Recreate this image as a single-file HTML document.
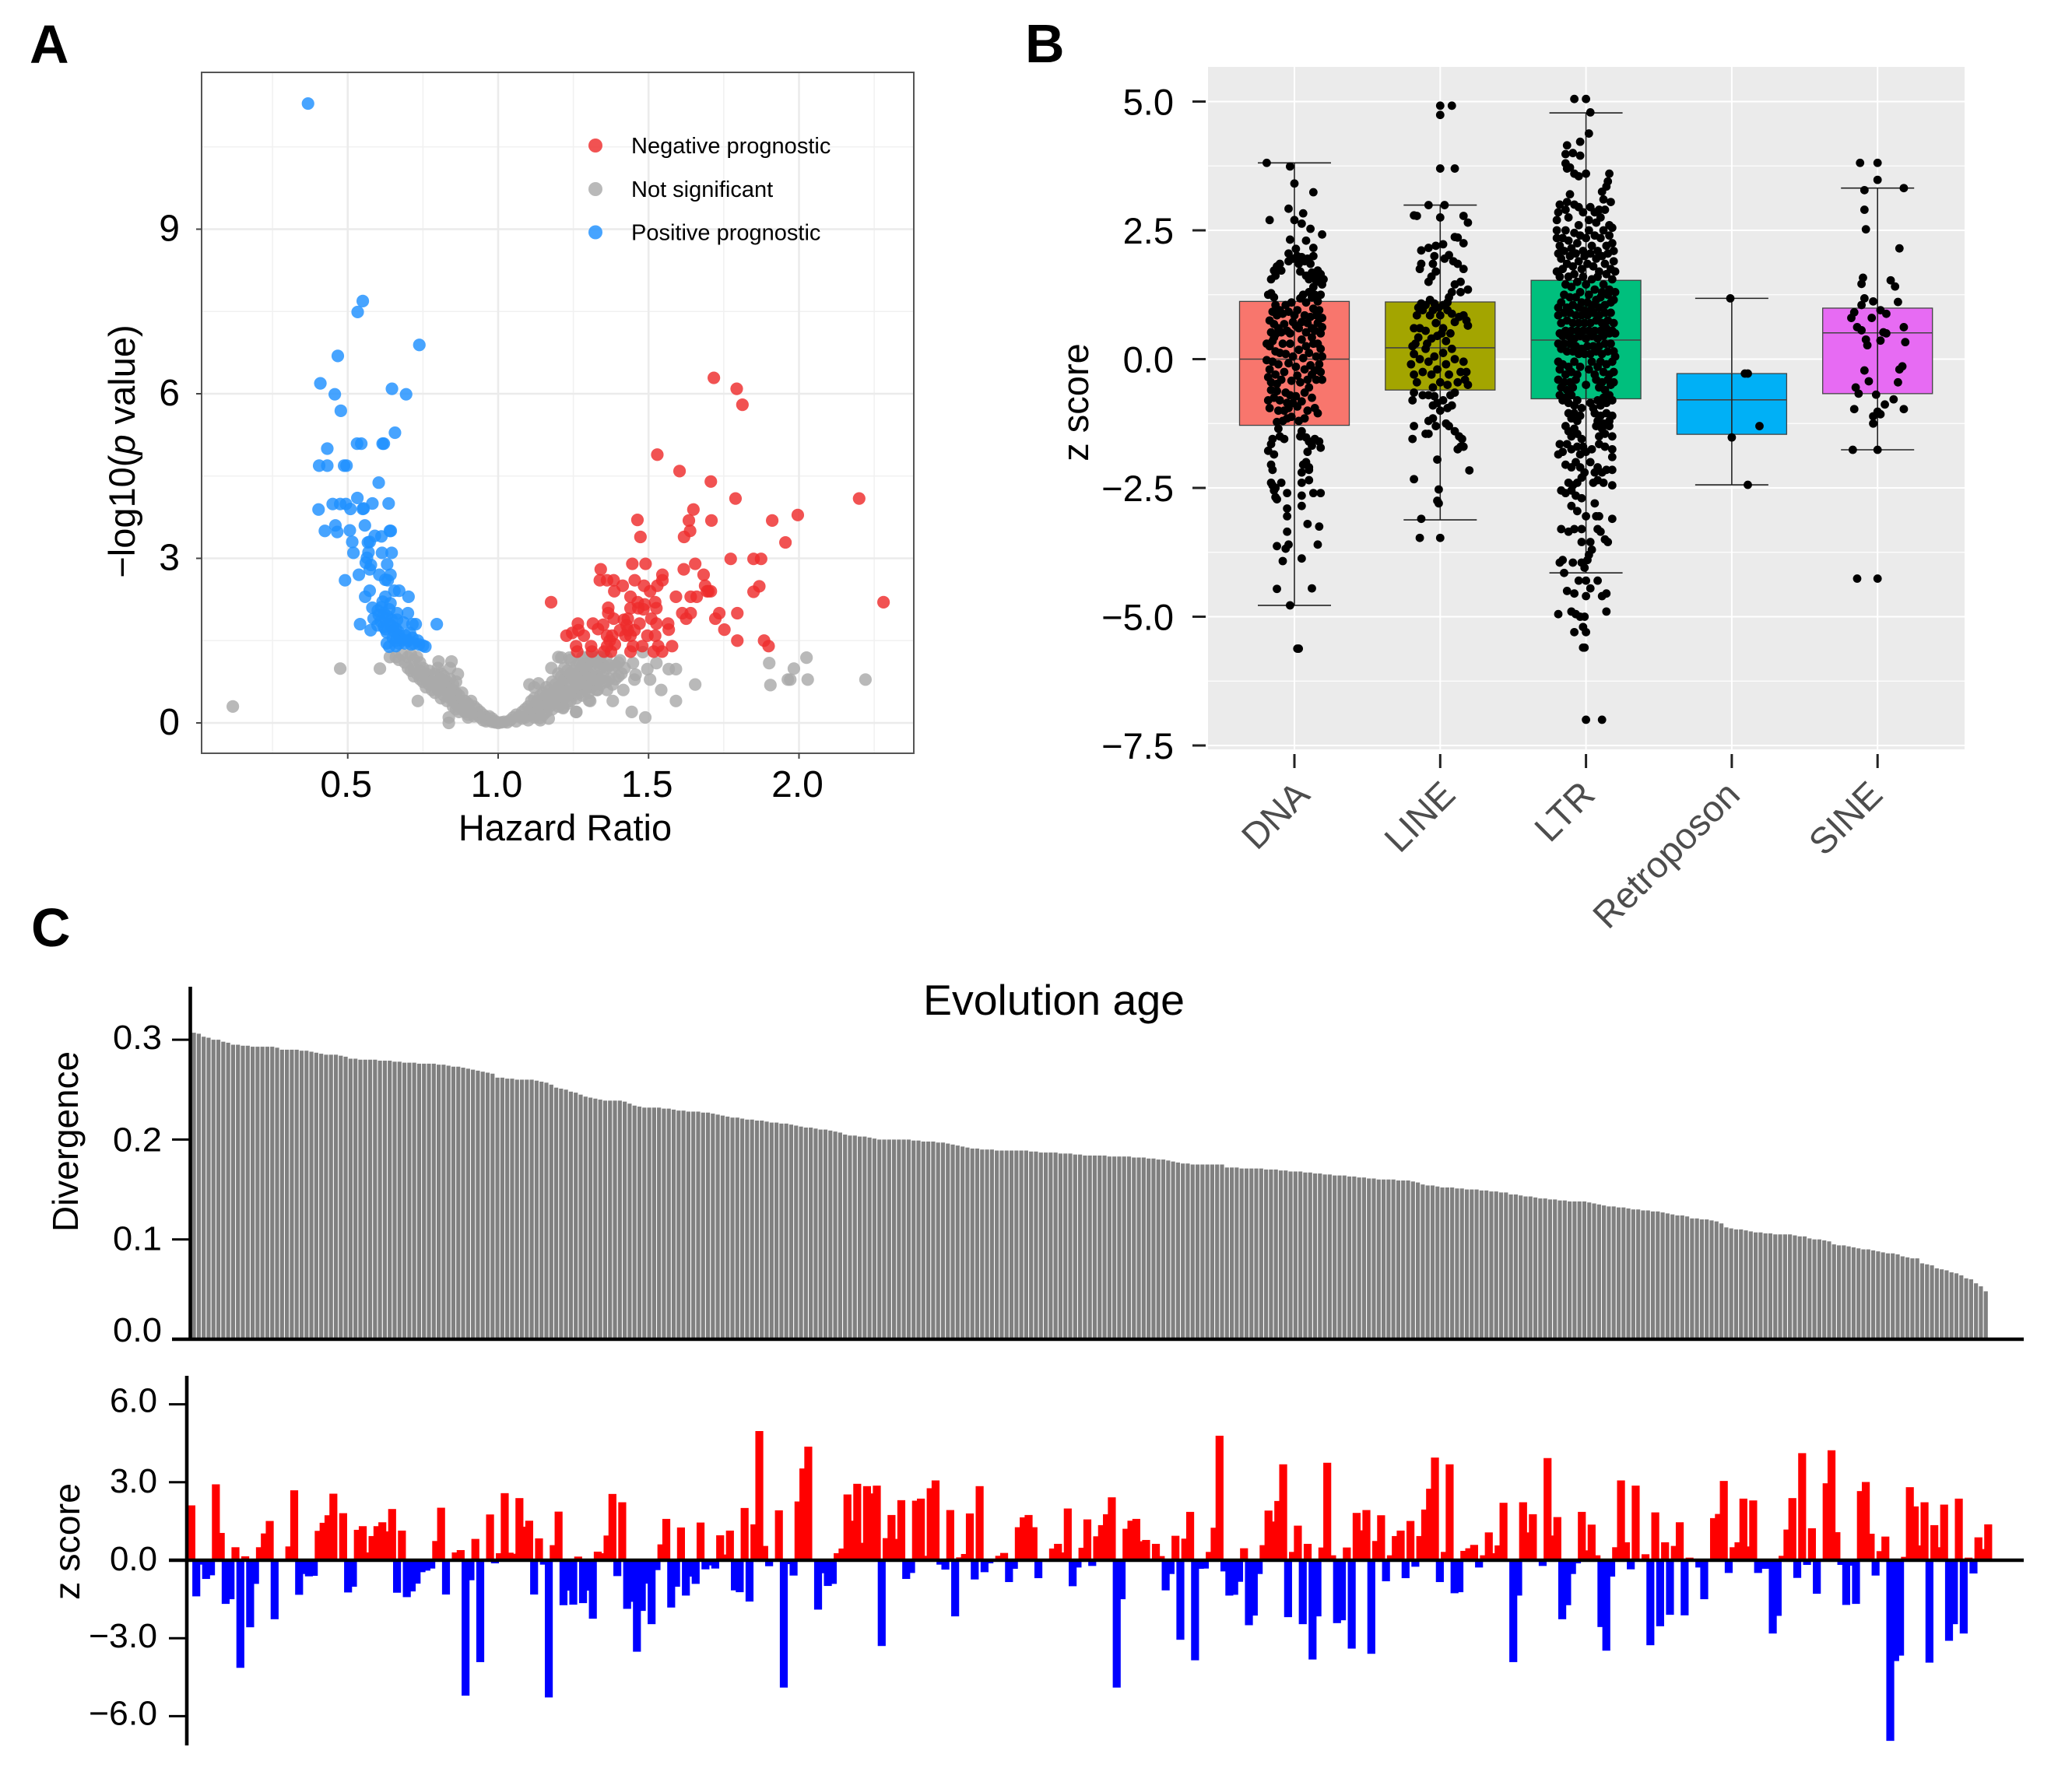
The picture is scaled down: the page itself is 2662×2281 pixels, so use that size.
<!DOCTYPE html>
<html lang="en">
<head>
<meta charset="utf-8">
<title>Prognostic volcano plot, z score box plot and evolution age bars</title>
<style>
html,body{margin:0;padding:0;background:#fff}
svg{display:block}
text{font-family:"Liberation Sans",Arial,sans-serif}
</style>
</head>
<body>
<svg id="fig" xmlns="http://www.w3.org/2000/svg" width="2662" height="2281" viewBox="0 0 2662 2281">
<rect width="2662" height="2281" fill="#fff"/>
<text x="38" y="81" font-size="70" font-weight="700">A</text>
<text x="1317" y="80" font-size="70" font-weight="700">B</text>
<text x="40" y="1216" font-size="70" font-weight="700">C</text>
<g id="panelA"></g>
<g id="panelB"></g>
<g id="panelC1"></g>
<g id="panelC2"></g>
<text x="726" y="1080" font-size="47" text-anchor="middle">Hazard Ratio</text>
<text transform="translate(173,580) rotate(-90)" font-size="47" text-anchor="middle">−log10(<tspan font-style="italic">p</tspan> value)</text>
<text transform="translate(1398,517) rotate(-90)" font-size="47" text-anchor="middle">z score</text>
<text x="1354" y="1304" font-size="55" text-anchor="middle" textLength="336" lengthAdjust="spacingAndGlyphs">Evolution age</text>
<text transform="translate(100,1467) rotate(-90)" font-size="46" text-anchor="middle" textLength="232" lengthAdjust="spacingAndGlyphs">Divergence</text>
<text transform="translate(102,1981) rotate(-90)" font-size="46" text-anchor="middle" textLength="150" lengthAdjust="spacingAndGlyphs">z score</text>
</svg>
<script>
/* ---------- Panel A data: hazard ratio, -log10(p) alternating ---------- */
const volcanoXTicks=[0.5,1.0,1.5,2.0];
const volcanoYTicks=[0,3,6,9];
const legendLabels=["Negative prognostic","Not significant","Positive prognostic"];
const positivePoints=[.368,11.29,.55,7.69,.533,7.49,.738,6.89,.467,6.69,.409,6.19,.647,6.09,.457,5.99,.694,5.99,.477,5.69,.657,5.29,.432,5,.531,5.09,.545,5.09,.616,5.09,.62,5.09,.405,4.69,.432,4.69,.488,4.69,.496,4.69,.603,4.38,.532,4.1,.45,3.99,.475,3.99,.494,3.99,.582,4,.636,4,.403,3.89,.509,3.9,.55,3.9,.553,3.91,.459,3.6,.465,3.48,.424,3.5,.507,3.51,.557,3.6,.64,3.5,.643,3.5,.59,3.41,.612,3.4,.573,3.3,.567,3.29,.515,3.3,.519,3.1,.569,3.11,.614,3.1,.646,3.1,.564,3.01,.56,2.92,.577,2.88,.631,2.89,.573,2.8,.537,2.7,.605,2.7,.642,2.7,.491,2.6,.625,2.61,.633,2.6,.573,2.41,.558,2.3,.655,2.41,.671,2.41,.702,2.3,.625,2.3,.616,2.21,.642,2.18,.582,2.1,.612,2.11,.638,2.07,.664,2,.7,2,.603,1.97,.586,1.9,.625,1.9,.646,1.88,.664,1.88,.685,1.83,.715,1.8,.726,1.8,.541,1.8,.796,1.8,.599,1.78,.625,1.71,.576,1.69,.651,1.69,.668,1.66,.707,1.64,.664,1.55,.681,1.52,.715,1.55,.733,1.5,.638,1.39,.66,1.4,.69,1.45,.711,1.43,.737,1.43,.758,1.39,.75,1.41,.6,2.05,.62,2,.63,1.95,.61,1.85,.64,1.8,.62,1.75,.65,1.75,.66,1.72,.63,1.65,.67,1.6,.69,1.6,.65,1.55,.7,1.5,.67,1.45,.72,1.45,.66,1.5,.63,1.45];
const negativePoints=[1.717,6.29,1.793,6.09,1.812,5.8,1.529,4.89,1.603,4.59,1.707,4.4,1.789,4.09,2.2,4.09,1.996,3.79,1.649,3.89,1.463,3.7,1.634,3.69,1.709,3.69,1.911,3.69,1.638,3.5,1.618,3.39,1.473,3.39,1.955,3.29,1.773,2.99,1.849,2.99,1.874,2.99,2.281,2.2,1.868,2.49,1.849,2.39,1.176,2.2,1.446,2.9,1.49,2.9,1.341,2.8,1.338,2.6,1.362,2.6,1.384,2.6,1.414,2.5,1.386,2.4,1.454,2.6,1.485,2.5,1.505,2.4,1.529,2.5,1.546,2.7,1.546,2.6,1.617,2.8,1.655,2.9,1.683,2.7,1.688,2.5,1.694,2.4,1.707,2.4,1.699,2.4,1.591,2.3,1.64,2.3,1.66,2.3,1.44,2.3,1.464,2.2,1.487,2.16,1.522,2.2,1.526,2.09,1.44,2.09,1.366,2.1,1.366,2,1.384,1.9,1.466,2.09,1.483,2.07,1.612,2,1.64,2,1.625,1.9,1.735,2,1.722,1.9,1.795,2,1.752,1.7,1.795,1.5,1.884,1.5,1.899,1.4,1.578,1.4,1.565,1.81,1.567,1.7,1.431,1.9,1.509,1.9,1.526,1.81,1.47,1.81,1.427,1.78,1.265,1.81,1.315,1.81,1.349,1.79,1.332,1.71,1.227,1.59,1.246,1.64,1.267,1.69,1.285,1.59,1.362,1.59,1.379,1.59,1.405,1.69,1.431,1.69,1.44,1.59,1.496,1.59,1.522,1.59,1.259,1.4,1.263,1.3,1.309,1.4,1.312,1.3,1.352,1.3,1.375,1.3,1.371,1.5,1.388,1.43,1.362,1.4,1.448,1.4,1.479,1.4,1.44,1.3,1.532,1.4,1.517,1.3,1.545,1.3,1.423,1.59,1.418,1.88,1.453,1.69];
const neutralPoints=[.118,.3,.475,.99,.607,.99,1.901,1.09,2.025,1.19,1.983,.99,1.971,.79,1.963,.79,2.029,.79,2.221,.79,1.905,.69,1.526,1.09,1.567,.98,1.591,.98,1.457,.88,1.453,.79,1.496,.98,1.505,.79,1.542,.6,1.591,.4,1.655,.7,1.416,.6,1.381,.4,1.306,.4,1.26,.2,1.444,.2,1.489,.1,1.448,1.09,1.405,1.14,1.481,1.29,1.362,.6,1.328,.6,1.168,.08,1.216,.29,.733,.4,.836,0,.836,.1,.9,.1,.802,1.12,.845,1.12,.84,1,.866,.89,.64,1.2,.66,1.2,.67,1.15,.68,1.25,.69,1.1,.7,1.2,.71,1.25,.72,1.15,.73,1.2,.74,1.1,.7,1,.71,.95,.72,1,.73,.9,.74,.95,.75,1,.76,.9,.77,.95,.72,.85,.74,.8,.75,.75,.76,.8,.78,.85,.79,.9,.8,1,.81,.9,.82,.85,.76,.65,.77,.7,.78,.75,.79,.7,.8,.75,.81,.8,.83,.75,.84,.8,.85,.7,.86,.75,.78,.6,.79,.55,.8,.6,.81,.65,.82,.6,.83,.65,.84,.55,.85,.6,.86,.55,.87,.5,.88,.55,.81,.45,.82,.5,.83,.4,.84,.45,.85,.4,.86,.35,.87,.4,.88,.35,.89,.4,.9,.35,.91,.4,.85,.3,.86,.25,.87,.2,.88,.25,.89,.2,.9,.25,.91,.2,.92,.3,.93,.25,.94,.2,.9,.15,.92,.12,.93,.15,.94,.1,.95,.15,.96,.1,.97,.12,.95,.05,.96,.03,.97,.05,.98,.02,.99,.03,1,0,1.01,.01,1.02,.02,1.03,.01,.98,.08,.99,.01,1.04,.05,1.05,.1,1.06,.03,1.07,.12,1.08,.08,1.09,.1,1.06,.15,1.08,.2,1.1,.05,1.11,.15,1.12,.1,1.14,.05,1.09,.25,1.1,.3,1.11,.25,1.12,.3,1.13,.2,1.14,.25,1.15,.15,1.16,.2,1.11,.4,1.12,.45,1.13,.4,1.14,.35,1.15,.3,1.16,.35,1.17,.3,1.18,.25,1.14,.5,1.15,.55,1.16,.5,1.17,.45,1.18,.4,1.19,.35,1.2,.3,1.21,.4,1.12,.65,1.16,.65,1.17,.6,1.18,.55,1.19,.5,1.2,.5,1.21,.55,1.22,.45,1.23,.35,1.24,.4,1.25,.5,1.26,.45,1.18,.75,1.19,.7,1.2,.65,1.21,.7,1.22,.6,1.23,.65,1.24,.55,1.25,.6,1.26,.65,1.27,.55,1.28,.5,1.29,.6,1.3,.55,1.2,.9,1.21,.85,1.22,.8,1.23,.85,1.24,.75,1.25,.8,1.26,.75,1.27,.7,1.28,.75,1.29,.7,1.3,.75,1.31,.65,1.32,.7,1.33,.6,1.34,.7,1.22,1,1.23,.95,1.24,.9,1.25,.95,1.26,.9,1.27,.85,1.28,.9,1.29,.85,1.3,.9,1.31,.85,1.32,.8,1.33,.85,1.34,.8,1.35,.85,1.36,.75,1.37,.8,1.38,.7,1.39,.8,1.4,.85,1.41,.9,1.24,1.15,1.26,1.05,1.27,1.1,1.28,1.05,1.29,1,1.3,1.1,1.31,1.05,1.32,1,1.33,1.1,1.34,1,1.35,1.05,1.36,1,1.37,1.05,1.38,1,1.39,1.05,1.21,1.19,1.4,1.1,1.42,1,1.28,1.2,1.3,1.2,1.32,1.2,1.34,1.2,1.36,1.2,1.2,1.2,1.237,1.19,1.177,1,1.104,.7,1.134,.72,1.259,.2,1.216,.27,1.138,.09,1.302,.41];

/* ---------- Panel B data ---------- */
const boxCategories=["DNA","LINE","LTR","Retroposon","SINE"];
const boxColors=["#F8766D","#A3A500","#00BF7D","#00B0F6","#E76BF3"];
const boxYTicks=[5,2.5,0,-2.5,-5,-7.5];
const boxMinorTicks=[3.75,1.25,-1.25,-3.75,-6.25];
const boxQ1=[-1.285,-.6,-.77,-1.46,-.67];
const boxMedian=[0,.22,.37,-.79,.51];
const boxQ3=[1.12,1.11,1.53,-.28,.99];
const whiskerHigh=[3.81,2.99,4.78,1.18,3.32];
const whiskerLow=[-4.78,-3.12,-4.15,-2.44,-1.76];
/* jitter offset (category units), z score alternating */
const dnaDots=[-.19,3.81,-.03,3.74,0,3.41,.13,3.24,-.04,2.92,.06,2.83,-.17,2.7,0,2.7,.05,2.63,.11,2.53,.19,2.42,-.03,2.32,.08,2.3,-.04,2.05,.01,2.14,.13,2.16,-.14,1.72,-.12,1.8,-.1,1.85,-.16,1.55,-.13,1.62,-.09,1.72,-.04,1.9,-.01,1.95,.02,2,.05,1.98,.07,1.9,.09,1.95,.11,1.85,.13,2,.03,1.85,.04,1.7,.08,1.62,.1,1.55,.12,1.68,.14,1.6,.16,1.72,.18,1.65,.2,1.55,.19,1.45,.17,1.5,.15,1.52,.13,1.4,-.18,1.25,-.16,1.28,-.14,1.2,-.13,1.05,-.15,.92,-.17,.75,-.14,.68,-.12,.85,-.1,.95,-.11,.6,-.08,.88,-.06,1.05,-.04,.92,-.02,1.1,0,.85,.02,.95,.04,1.18,.06,1.25,.08,1.1,.1,1.3,.12,1.2,.14,1.25,.16,1.12,.18,1.25,.17,.95,.19,.8,.15,.85,.13,.98,.11,.82,.09,.7,.07,.85,.05,.72,.03,.6,.01,.65,-.01,.72,-.03,.5,-.05,.55,-.07,.68,-.09,.52,-.13,.48,-.16,.52,.12,.6,.14,.55,.16,.7,.18,.5,.19,.62,.08,.52,-.19,.3,-.17,.25,-.15,.35,-.13,.15,-.15,-.05,-.17,-.2,-.18,-.35,-.16,-.45,-.13,-.3,-.11,-.1,-.1,.12,-.08,.3,-.06,.1,-.04,-.08,-.07,-.25,-.09,-.4,-.03,.3,-.01,.05,.01,-.15,.03,.18,.05,.38,.02,-.32,.04,-.45,.06,.02,.08,.25,.1,.12,.07,-.2,.09,-.4,.11,-.12,.13,.3,.15,.05,.12,.42,.16,.3,.18,.2,.19,.05,.17,-.1,.18,-.25,.14,-.22,.19,-.4,.15,-.4,.12,-.3,-.12,-.48,-.02,-.42,-.19,-.02,-.14,.42,-.16,-.6,-.18,-.8,-.14,-.75,-.17,-.95,-.12,-.62,-.1,-.8,-.11,-1,-.06,-.65,-.05,-.85,-.07,-1,-.03,-.7,-.04,-.95,-.01,-.85,.01,-.72,.02,-.92,-.02,-1.12,-.08,-1.2,-.05,-1.15,-.11,-1.35,-.12,-1.22,.03,-1.2,.05,-.82,.07,-.65,.09,-1,.12,-.75,.1,-.55,.14,-.95,.16,-1.05,.07,-1.15,.05,-1.4,.04,-1.5,-.15,-1.55,-.16,-1.65,-.18,-1.78,-.14,-1.85,-.1,-1.5,-.07,-1.55,.08,-1.52,.1,-1.6,.14,-1.55,.17,-1.6,.18,-1.72,.12,-1.68,.09,-1.8,.08,-2,.1,-2.1,.06,-2.05,.1,-2.15,.05,-2.2,-.16,-2.05,-.15,-2.15,-.16,-2.4,-.15,-2.45,-.13,-2.5,-.09,-2.4,-.14,-2.55,-.13,-2.68,-.12,-2.72,.05,-2.4,.1,-2.35,.18,-2.6,.13,-2.6,.05,-2.65,-.05,-2.6,-.05,-2.9,.05,-2.85,-.05,-3.05,.09,-3.2,.17,-3.25,-.05,-3.35,.16,-3.6,-.12,-3.63,-.04,-3.6,-.06,-3.68,-.08,-3.92,.05,-3.87,-.12,-4.46,.12,-4.45,-.03,-4.78,.02,-5.62,.03,-5.62];
const lineDots=[0,4.92,.08,4.92,0,4.74,0,3.7,.1,3.7,-.08,2.99,.03,2.99,-.18,2.79,-.16,2.78,0,2.75,.16,2.78,.19,2.65,.1,2.37,.12,2.36,.16,2.25,.02,2.23,-.03,2.2,-.08,2.16,-.13,2.11,-.13,1.85,-.14,1.75,-.04,2,-.05,1.85,-.03,1.7,-.06,1.6,-.08,1.5,.03,1.95,.06,2.02,.09,1.9,.12,1.85,.16,1.75,.14,1.5,.1,1.45,.08,1.3,.06,1.2,.14,1.3,.19,1.35,.05,1.1,.02,1.05,-.01,1,-.04,1.08,-.07,1.15,-.1,1.05,-.15,1,-.13,1.08,-.16,.85,-.18,.6,-.12,.95,-.14,.6,-.1,.55,-.07,.85,-.05,.95,-.03,.7,0,.85,.02,.6,.05,.95,.08,.88,.1,.72,.13,.82,.16,.85,.18,.75,.19,.65,-.02,.45,-.06,.4,-.09,.3,.01,.5,.04,.35,.07,.5,-.15,.42,-.19,.25,-.17,.3,-.18,.1,-.2,-.1,-.18,-.3,-.16,-.45,-.14,0,-.12,-.25,-.1,.2,-.08,-.05,-.06,-.3,-.04,.05,-.02,-.2,0,-.45,.02,.12,.04,-.1,.06,-.3,.08,.2,.1,0,.12,-.45,.14,-.25,.16,-.05,.17,-.4,.05,-.5,-.05,-.55,.18,-.25,.19,-.5,-.19,-.8,-.18,-.65,-.12,-.7,-.08,-.7,-.04,-.72,-.05,-.9,-.02,-.85,.02,-.8,.05,-.95,.07,-.7,.1,-.65,.08,-.9,0,-1,.04,-1.25,.06,-1.3,-.08,-1.2,-.05,-1.15,-.03,-1.3,-.18,-1.3,-.08,-1.45,-.19,-1.55,-.1,-1.45,.1,-1.4,.13,-1.5,.15,-1.55,.14,-1.7,.12,-1.75,.16,-1.7,-.02,-1.95,.2,-2.16,-.18,-2.33,-.01,-2.53,-.02,-2.75,-.01,-2.8,-.13,-3.1,-.14,-3.47,0,-3.47];
const ltrDots=[-.08,5.05,0,5.05,.03,4.79,.02,4.38,-.04,4.22,-.13,4.15,-.14,3.98,-.09,4,-.04,3.95,-.14,3.8,-.13,3.7,-.11,3.72,-.08,3.6,-.05,3.55,0,3.6,.16,3.6,.15,3.45,.14,3.35,.11,3.25,.12,3.1,.17,3.05,-.11,3.2,-.13,3.05,-.18,3,-.19,2.85,-.2,2.7,-.14,2.9,-.12,2.75,-.08,3,-.05,2.95,-.02,2.85,.03,2.95,.06,2.85,.09,2.9,.13,2.9,.02,2.7,-.05,2.6,.07,2.65,.1,2.75,.16,2.6,.18,2.55,-.2,2.5,-.2,2.35,-.18,2.2,-.16,2.35,-.14,2.5,-.12,2.3,-.1,2.15,-.08,2.45,-.06,2.25,-.04,2.4,-.02,2.1,0,2.35,.02,2.5,.04,2.2,.06,2.4,.08,2.1,.1,2.35,.12,2.5,.14,2.2,.16,2.4,.18,2.25,.19,2.1,-.19,2.05,-.17,1.95,-.15,2.1,-.13,1.85,-.11,2,-.09,1.8,-.07,2.05,-.05,1.9,-.03,1.75,-.01,2,.01,1.85,.03,2.05,.05,1.8,.07,1.95,.09,1.7,.11,2,.13,1.85,.15,2.05,.17,1.75,.19,1.9,.2,1.7,-.2,1.7,-.18,1.6,-.16,1.75,-.14,1.45,-.12,1.6,-.1,1.4,-.08,1.65,-.06,1.5,-.04,1.3,-.02,1.6,0,1.45,.02,1.25,.04,1.55,.06,1.35,.08,1.6,.1,1.2,.12,1.45,.14,1.65,.16,1.35,.18,1.55,.2,1.3,.19,1.15,.17,1.1,.15,1.25,.13,1.05,.11,1.3,.09,1,.07,1.15,.05,1.05,.03,.95,.01,1.1,-.01,.95,-.03,1.1,-.05,1,-.07,1.2,-.09,1.05,-.11,1.2,-.13,1,-.15,1.25,-.17,1.1,-.19,1,-.19,.85,-.17,.7,-.15,.9,-.13,.75,-.11,.9,-.09,.7,-.07,.85,-.05,.7,-.03,.85,-.01,.7,.01,.85,.03,.7,.05,.9,.07,.75,.09,.85,.11,.7,.13,.9,.15,.75,.17,.9,.19,.7,.2,.5,.18,.55,.16,.5,.14,.6,.12,.45,.1,.55,.08,.4,.06,.55,.04,.45,.02,.55,0,.4,-.02,.55,-.04,.45,-.06,.55,-.08,.4,-.1,.55,-.12,.45,-.14,.55,-.16,.45,-.18,.5,-.19,.3,-.17,.2,-.15,.3,-.13,.15,-.11,.3,-.09,.15,-.07,.25,-.05,.1,-.03,.2,-.01,.1,.01,.25,.03,.1,.05,.25,.07,.15,.09,.25,.11,.1,.13,.3,.15,.15,.17,.3,.19,.15,.2,.05,-.19,-.05,-.18,-.2,-.16,-.1,-.14,-.3,-.12,-.15,-.1,-.25,-.08,-.05,-.06,-.3,-.04,-.15,.02,-.2,.04,-.05,.06,-.3,.08,-.15,.1,-.05,.12,-.25,.14,-.1,.16,-.3,.18,-.05,.19,-.25,-.19,-.4,-.17,-.55,-.15,-.45,-.13,-.6,-.11,-.45,-.09,-.55,-.07,-.4,0,-.5,.07,-.4,.09,-.55,.11,-.45,.13,-.6,.15,-.4,.17,-.5,.19,-.45,-.18,-.7,-.16,-.8,-.14,-.75,-.12,-.85,-.1,-.7,-.08,-.9,-.06,-.8,-.03,-.95,.03,-.85,.05,-.95,.08,-.8,.1,-.9,.12,-.75,.14,-.85,.16,-.7,.18,-.8,-.12,-1.05,-.1,-1.15,-.08,-1.05,-.06,-1.2,-.04,-1.1,.06,-1.05,.08,-1.2,.1,-1.1,.12,-1.25,.14,-1.05,.16,-1.2,.18,-1.1,-.14,-1.3,-.12,-1.4,-.1,-1.5,-.08,-1.35,-.06,-1.45,-.03,-1.55,.07,-1.3,.09,-1.5,.11,-1.35,.13,-1.45,.16,-1.3,.18,-1.5,-.18,-1.65,-.16,-1.8,-.19,-1.85,-.13,-1.65,-.1,-1.75,-.06,-1.7,-.04,-1.85,-.02,-1.7,0,-1.8,.04,-1.75,.09,-1.65,.13,-1.7,.18,-1.75,.18,-1.9,-.14,-2.05,-.1,-2.1,-.07,-2,-.04,-2.1,-.01,-2.2,.03,-2,.06,-2.2,.08,-2.1,.11,-2.2,.14,-2.15,.18,-2.15,.12,-2.4,.08,-2.35,.05,-2.4,.18,-2.45,-.03,-2.3,-.06,-2.4,-.09,-2.45,-.12,-2.4,-.17,-2.55,-.14,-2.6,-.1,-2.55,-.07,-2.65,-.03,-2.7,.06,-2.8,-.1,-2.85,-.06,-2.95,0,-3.05,.07,-3.05,-.17,-3.3,-.12,-3.35,-.08,-3.3,-.03,-3.3,.09,-3.05,.18,-3.1,.08,-3.3,.1,-3.35,.13,-3.5,.15,-3.55,-.03,-3.55,.03,-3.55,.04,-3.7,.02,-3.8,-.18,-3.95,-.16,-3.9,-.09,-3.95,-.03,-3.95,.01,-3.9,-.15,-4.15,-.01,-4.05,-.05,-4.3,0,-4.3,.08,-4.3,.03,-4.45,-.13,-4.5,-.08,-4.55,.11,-4.6,0,-4.6,.14,-4.55,-.19,-4.95,-.1,-4.9,-.07,-4.95,-.04,-5,-.01,-5,.14,-4.9,-.08,-5.3,-.02,-5.2,0,-5.3,-.02,-5.6,-.01,-5.6,0,-7,.11,-7];
const retroposonDots=[-.01,1.18,.09,-.28,.11,-.28,.19,-1.3,0,-1.52,.11,-2.44];
const sineDots=[-.12,3.81,0,3.81,0,3.48,-.09,3.28,.18,3.32,-.09,2.9,-.08,2.52,.15,2.15,-.1,1.58,-.11,1.46,.09,1.53,.12,1.41,-.09,1.18,-.03,1.12,.14,1.11,-.11,1.05,-.16,.91,.02,.95,-.18,.8,-.04,.8,.06,.88,.18,.62,-.14,.62,-.11,.56,.04,.52,.06,.5,-.08,.38,.19,.33,-.07,.27,.02,.36,.17,-.14,.15,-.2,-.09,-.22,.14,-.45,-.06,-.43,-.15,-.55,-.13,-.67,-.01,-.69,.11,-.78,.05,-.88,.18,-.97,-.16,-.97,0,-1.02,.02,-1.07,-.03,-1.11,-.03,-1.25,-.17,-1.76,0,-1.76,-.14,-4.26,0,-4.26];
const boxDots=[dnaDots,lineDots,ltrDots,retroposonDots,sineDots];

/* ---------- Panel C data ---------- */
const divergenceTicks=[0.3,0.2,0.1,0.0];
const divergenceValues=[.307,.306,.303,.302,.3,.3,.298,.297,.295,.295,.294,.294,.293,.293,.293,.293,.293,.292,.29,.29,.29,.29,.289,.289,.288,.287,.286,.285,.285,.285,
.284,.283,.281,.281,.28,.28,.28,.28,.279,.279,.279,.278,.278,.277,.277,.277,.276,.276,.276,.276,
.275,.275,.274,.273,.273,.272,.271,.27,.269,.268,.267,.266,.262,.262,.261,.261,.26,.26,.26,.26,
.259,.258,.257,.255,.252,.251,.25,.248,.247,.245,.243,.242,.241,.24,.239,.239,.239,.239,.238,.236,
.234,.233,.232,.232,.232,.232,.231,.231,.23,.229,.229,.228,.228,.228,.227,.227,.226,.225,.224,.223,
.222,.222,.221,.22,.22,.219,.219,.218,.217,.217,.216,.216,.215,.214,.213,.212,.212,.211,.21,.21,
.209,.208,.207,.205,.204,.204,.203,.203,.202,.201,.2,.2,.2,.2,.2,.2,.2,.199,.199,.198,
.198,.198,.197,.197,.196,.195,.194,.193,.192,.191,.191,.19,.19,.19,.189,.189,.189,.189,.189,.189,
.189,.188,.188,.187,.187,.187,.187,.186,.186,.186,.185,.185,.184,.184,.184,.184,.184,.183,.183,.183,
.183,.183,.182,.182,.182,.181,.181,.18,.18,.179,.178,.177,.176,.176,.175,.175,.175,.175,.175,.175,
.175,.172,.172,.172,.171,.171,.171,.171,.171,.17,.17,.17,.169,.169,.168,.168,.168,.167,.167,.166,
.166,.165,.165,.164,.164,.164,.163,.163,.162,.162,.161,.161,.16,.16,.16,.16,.159,.159,.159,.158,
.157,.155,.154,.154,.153,.152,.152,.152,.151,.151,.15,.15,.15,.149,.149,.148,.148,.147,.147,.145,
.145,.144,.143,.143,.142,.141,.141,.14,.14,.139,.139,.138,.138,.138,.138,.137,.136,.135,.134,.133,
.133,.132,.132,.131,.13,.13,.129,.129,.128,.128,.127,.126,.125,.124,.124,.123,.121,.121,.12,.12,
.119,.118,.116,.112,.111,.11,.11,.109,.108,.107,.107,.106,.106,.105,.105,.105,.105,.104,.103,.103,
.101,.1,.1,.099,.098,.095,.094,.094,.093,.092,.091,.09,.09,.089,.088,.087,.086,.086,.085,.083,
.082,.081,.081,.076,.075,.074,.071,.07,.069,.067,.066,.064,.061,.06,.056,.053,.048];
const zScoreTicks=[6,3,0,-3,-6];
const zScoreValues=[2.11,-1.39,-.17,-.72,-.58,2.92,1.05,-1.68,-1.5,.5,
-4.14,.15,-2.58,-.91,.5,1.03,1.51,-2.27,-.05,-.05,
.53,2.69,-1.33,-.53,-.62,-.6,1.13,1.44,1.73,2.56,
-.03,1.81,-1.24,-1.02,1.17,1.31,.3,.93,1.31,1.46,
1.11,1.97,-1.25,1.14,-1.42,-1.2,-.9,-.46,-.4,-.32,
.74,2.02,-1.32,.03,.3,.39,-5.21,-.77,.82,-3.92,
.03,1.76,-.12,.27,2.58,.29,.25,2.39,1.29,1.52,
-1.32,.84,-.17,-5.28,.58,1.87,-1.73,-1.17,-1.71,.14,
-1.65,-1.17,-2.25,.33,.27,.95,2.55,-.61,2.23,-1.87,
-1.6,-3.52,-1.95,-.9,-2.46,-.38,.61,1.59,-1.82,-1.02,
1.26,-1.36,-.63,-.91,1.45,-.35,-.2,-.32,.96,.22,
1.14,-1.16,-1.23,2.01,-1.59,1.38,4.97,.55,-.23,.03,
1.92,-4.9,-.15,-.59,2.26,3.53,4.37,.03,-1.9,-.5,
-.99,-.91,.27,.45,2.53,1.52,2.94,.67,2.85,2.57,
2.87,-3.3,.85,1.74,.82,2.31,-.72,-.49,2.29,2.37,
.17,2.77,3.07,-.17,-.36,1.93,-2.16,.11,.24,1.8,
-.74,2.85,-.46,-.12,-.05,.17,.28,-.84,-.33,1.27,
1.65,1.74,1.27,-.69,.03,.03,.45,.63,.3,1.99,
-1,-.28,.48,1.57,-.22,.92,1.35,1.77,2.42,-4.9,
-1.5,1.21,1.52,1.59,.73,.78,.03,.63,.16,-1.16,
-.53,.94,-3.06,.83,1.86,-3.85,-.33,-.32,.32,1.25,
4.79,-.43,-1.36,-1.33,-.83,.46,-2.5,-2.13,-.53,.58,
1.91,1.49,2.28,3.69,-2.19,.32,1.33,-2.46,.63,-3.82,
-2.16,.49,3.75,.19,-2.42,-2.31,.49,-3.4,1.82,1.15,
1.93,-3.6,.74,1.73,-.81,.19,.93,1.14,-.69,1.51,
-.25,.93,1.95,2.75,3.95,-.84,.32,3.69,-1.27,-1.23,
.36,.46,.59,-.28,.19,1.07,.27,.57,2.21,.03,
-3.92,-1.36,2.23,1.07,1.77,.03,-.22,3.93,.95,1.66,
-2.27,-1.73,-.53,-.12,1.86,.38,1.37,.19,-2.57,-3.48,
-.63,.5,3.07,.69,-.35,2.87,.03,.23,-3.27,1.84,
-2.54,.69,-2.1,.55,1.46,-2.12,.1,.03,-.28,-1.5,
.03,1.62,1.78,3.05,-.49,.5,.69,2.37,.53,2.3,
-.49,-.33,-.33,-2.82,-2.14,.17,1.18,2.39,-.68,4.12,
-.18,1.23,-1.29,.03,2.96,4.23,1.08,-.18,-1.72,-.21,
-1.68,2.66,3.01,1.02,-.59,.35,.91,-6.95,-3.88,-3.67,
.13,2.81,2.07,.57,2.23,-3.94,1.35,.5,2.14,-3.1,
-2.46,2.37,-2.82,.1,-.51,.88,.43,1.38];

/* ---------- scales ---------- */
const xA=v=>640+(v-1)*386.5;
const yA=v=>929-v*70.5;
const xB=i=>1663+i*187.3;
const yB=v=>461.5-v*66.2;
const xC1=i=>246.5+i*6.29;
const yC1=v=>1721-v*1283;
const xC2=i=>240.8+i*6.29;
const yC2=v=>2005-v*33.4;

const NS='http://www.w3.org/2000/svg';
function mk(tag,parent,attrs,txt){
  const el=document.createElementNS(NS,tag);
  for(const k in attrs)el.setAttribute(k,attrs[k]);
  if(txt!==undefined)el.textContent=txt;
  parent.appendChild(el);
  return el;
}
function line(parent,name,x1,y1,x2,y2,stroke,w){
  const el=mk('line',parent,{x1,y1,x2,y2,stroke,'stroke-width':w});
  
  
  return el;
}
function label(parent,name,x,y,size,anchor,str,fill,extra){
  const el=mk('text',parent,Object.assign({x,y,'font-size':size,'text-anchor':anchor,fill:fill||'#000'},extra||{}),str);
  
  
  return el;
}

/* ---------- Panel A ---------- */
(function(){
  const g=document.getElementById('panelA');
  const L=259,R=1174,T=93,B=968;
  [.25,.75,1.25,1.75,2.25].forEach(v=>line(g,'volcano-minor-gridline-x',xA(v),T,xA(v),B,'#f1f1f1',1.6));
  [1.5,4.5,7.5,10.5].forEach(v=>line(g,'volcano-minor-gridline-y',L,yA(v),R,yA(v),'#f1f1f1',1.6));
  volcanoXTicks.forEach(v=>line(g,'volcano-major-gridline-x',xA(v),T,xA(v),B,'#ebebeb',2.6));
  volcanoYTicks.forEach(v=>line(g,'volcano-major-gridline-y',L,yA(v),R,yA(v),'#ebebeb',2.6));
  function drawPoints(arr,fill,name){
    for(let i=0;i+1<arr.length;i+=2){
      const c=mk('circle',g,{cx:xA(arr[i]),cy:yA(arr[i+1]),r:8.1,fill,'fill-opacity':.82});
      
      
    }
  }
  drawPoints(neutralPoints,'#A9A9A9','not-significant-point');
  drawPoints(positivePoints,'#1E90FF','positive-prognostic-point');
  drawPoints(negativePoints,'#EE2C2C','negative-prognostic-point');
  const frame=mk('rect',g,{x:L,y:T,width:R-L,height:B-T,fill:'none',stroke:'#555','stroke-width':2});
  
  
  volcanoXTicks.forEach(v=>{
    line(g,'volcano-x-tick',xA(v),B,xA(v),B+7,'#444',2);
    label(g,'volcano-x-tick-label',xA(v)-2,1024,48,'middle',v.toFixed(1));
  });
  volcanoYTicks.forEach(v=>{
    line(g,'volcano-y-tick',L-7,yA(v),L,yA(v),'#444',2);
    label(g,'volcano-y-tick-label',231,yA(v)+15,48,'end',String(v));
  });
  const legendColors=['#EE2C2C','#A9A9A9','#1E90FF'];
  const legendY=[187,243,298.5];
  legendLabels.forEach((t,i)=>{
    const d=mk('circle',g,{cx:765,cy:legendY[i],r:9,fill:legendColors[i],'fill-opacity':.82});
    
    
    label(g,'legend-entry',811,legendY[i]+10,29,'start',t);
  });
})();

/* ---------- Panel B ---------- */
(function(){
  const g=document.getElementById('panelB');
  const L=1552,R=2524,T=86,B=963;
  const bg=mk('rect',g,{x:L,y:T,width:R-L,height:B-T,fill:'#EBEBEB'});
  
  
  boxMinorTicks.forEach(v=>line(g,'box-minor-gridline',L,yB(v),R,yB(v),'#fff',1.2));
  boxYTicks.forEach(v=>line(g,'box-major-gridline',L,yB(v),R,yB(v),'#fff',2));
  boxCategories.forEach((c,i)=>line(g,'box-category-gridline',xB(i),T,xB(i),B,'#fff',2));
  const labelNudge=[22,22,14,13,9];
  boxCategories.forEach((c,i)=>{
    const cx=xB(i);
    line(g,'whisker-'+c.toLowerCase(),cx,yB(whiskerHigh[i]),cx,yB(whiskerLow[i]),'#222',1.6);
    line(g,'whisker-cap-high',cx-47,yB(whiskerHigh[i]),cx+47,yB(whiskerHigh[i]),'#222',1.6);
    line(g,'whisker-cap-low',cx-47,yB(whiskerLow[i]),cx+47,yB(whiskerLow[i]),'#222',1.6);
    const r=mk('rect',g,{x:cx-70.5,y:yB(boxQ3[i]),width:141,height:yB(boxQ1[i])-yB(boxQ3[i]),fill:boxColors[i],stroke:'#444','stroke-width':1.3});
    
    
    line(g,'box-median',cx-70.5,yB(boxMedian[i]),cx+70.5,yB(boxMedian[i]),'#444',1.6);
    line(g,'whisker-inner',cx,yB(boxQ3[i]),cx,yB(boxQ1[i]),'#222',1.6);
  });
  boxDots.forEach((arr,i)=>{
    for(let k=0;k+1<arr.length;k+=2){
      const c=mk('circle',g,{cx:xB(i+arr[k]),cy:yB(arr[k+1]),r:5.4,fill:'#000'});
      
      
    }
  });
  boxYTicks.forEach(v=>{
    line(g,'box-y-tick',1532,yB(v),1549,yB(v),'#222',3);
    label(g,'box-y-tick-label',1508,yB(v)+17,47,'end',(v<0?'−':'')+Math.abs(v).toFixed(1));
  });
  boxCategories.forEach((c,i)=>{
    line(g,'box-x-tick',xB(i),969,xB(i),987,'#222',3);
    const t=label(g,'box-x-tick-label',0,0,47,'end',c,'#4d4d4d');
    t.setAttribute('transform','translate('+(xB(i)+labelNudge[i])+',1024) rotate(-45)');
  });
})();

/* ---------- Panel C: divergence ---------- */
(function(){
  const g=document.getElementById('panelC1');
  divergenceValues.forEach((v,i)=>{
    const r=mk('rect',g,{x:xC1(i),y:yC1(v),width:5.2,height:yC1(0)-yC1(v),fill:'#808080'});
    
    
  });
  line(g,'divergence-y-axis',244.5,1268,244.5,1723,'#000',4.6);
  line(g,'divergence-x-axis',221,1721,2600,1721,'#000',4.6);
  const baselineShift=[12,15,14,3];
  divergenceTicks.forEach((v,i)=>{
    line(g,'divergence-y-tick',221,yC1(v),244,yC1(v),'#000',3);
    label(g,'divergence-y-tick-label',208,yC1(v)+baselineShift[i],44,'end',v.toFixed(1),'#000',{textLength:63,lengthAdjust:'spacingAndGlyphs'});
  });
})();

/* ---------- Panel C: z score ---------- */
(function(){
  const g=document.getElementById('panelC2');
  zScoreValues.forEach((v,i)=>{
    const top=v>=0?yC2(v):yC2(0);
    const r=mk('rect',g,{x:xC2(i),y:top,width:10.2,height:Math.abs(yC2(v)-yC2(0)),fill:v>=0?'#FF0000':'#0000FF'});
    
    
  });
  line(g,'z-score-y-axis',240,1768,240,2243,'#000',4.6);
  line(g,'z-score-zero-line',217,2005,2600,2005,'#000',4.6);
  const tickShift=[10,13,13,12,11];
  zScoreTicks.forEach((v,i)=>{
    line(g,'z-score-y-tick',217,yC2(v),240,yC2(v),'#000',3);
    const s=(v<0?'−':'')+Math.abs(v).toFixed(1);
    label(g,'z-score-y-tick-label',202,yC2(v)+tickShift[i],44,'end',s,'#000',{textLength:v<0?88:61,lengthAdjust:'spacingAndGlyphs'});
  });
})();
</script>
</body>
</html>
